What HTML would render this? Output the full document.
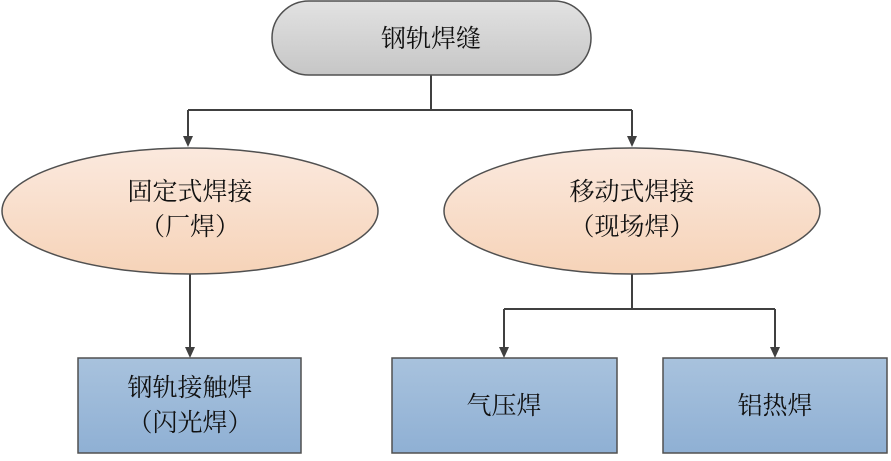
<!DOCTYPE html>
<html><head><meta charset="utf-8"><style>
html,body{margin:0;padding:0;background:#fff;}
text{font-family:"Liberation Serif","Noto Serif CJK SC","Noto Sans CJK SC",serif;font-size:25px;fill:#111;text-anchor:middle;}
</style></head><body>
<svg width="891" height="456" viewBox="0 0 891 456" xmlns="http://www.w3.org/2000/svg">
<defs>
<linearGradient id="g" x1="0" y1="0" x2="0" y2="1"><stop offset="0" stop-color="#e2e2e2"/><stop offset="1" stop-color="#c6c6c6"/></linearGradient>
<linearGradient id="o" x1="0" y1="0" x2="0" y2="1"><stop offset="0" stop-color="#fbe9de"/><stop offset="1" stop-color="#f6d3b8"/></linearGradient>
<linearGradient id="b" x1="0" y1="0" x2="0" y2="1"><stop offset="0" stop-color="#a8c2dd"/><stop offset="1" stop-color="#8fb0d4"/></linearGradient>
</defs>
<g stroke="#404040" stroke-width="2" fill="none">
<path d="M431,75 V110"/>
<path d="M188,110 H632"/>
<path d="M188,110 V138"/>
<path d="M632,110 V138"/>
<path d="M190,274 V348"/>
<path d="M632,274 V309"/>
<path d="M504,309 H775"/>
<path d="M504,309 V348"/>
<path d="M775,309 V348"/>
</g>
<g fill="#404040">
<path d="M183,136 L193,136 L188,147 Z"/>
<path d="M627,136 L637,136 L632,147 Z"/>
<path d="M185,347 L195,347 L190,358 Z"/>
<path d="M499,347 L509,347 L504,358 Z"/>
<path d="M770,347 L780,347 L775,358 Z"/>
</g>
<rect x="272" y="1" width="319" height="74" rx="37" fill="url(#g)" stroke="#505050" stroke-width="1.5"/>
<ellipse cx="190" cy="211" rx="188" ry="63" fill="url(#o)" stroke="#505050" stroke-width="1.5"/>
<ellipse cx="632" cy="211" rx="188" ry="63" fill="url(#o)" stroke="#505050" stroke-width="1.5"/>
<rect x="78" y="358" width="223" height="95" fill="url(#b)" stroke="#505050" stroke-width="1.5"/>
<rect x="392" y="358" width="225" height="95" fill="url(#b)" stroke="#505050" stroke-width="1.5"/>
<rect x="663" y="358" width="224" height="95" fill="url(#b)" stroke="#505050" stroke-width="1.5"/>
<text x="431" y="47">钢轨焊缝</text>
<text x="190" y="200">固定式焊接</text>
<text x="190" y="235">（厂焊）</text>
<text x="632" y="200">移动式焊接</text>
<text x="632" y="235">（现场焊）</text>
<text x="190" y="396">钢轨接触焊</text>
<text x="190" y="431">（闪光焊）</text>
<text x="504" y="414">气压焊</text>
<text x="775" y="414">铝热焊</text>
</svg>
</body></html>
